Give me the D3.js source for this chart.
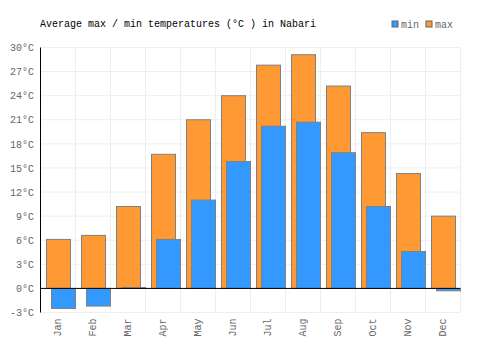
<!DOCTYPE html>
<html>
<head>
<meta charset="utf-8">
<script src="https://cdn.jsdelivr.net/npm/d3@7"></script>
<style>
  body { margin: 0; background: #fff; }
  text { font-family: "Liberation Mono", monospace; }
</style>
</head>
<body>
<svg id="chart" width="500" height="350"></svg>
<script>
// monthly averages
const months = ['Jan', 'Feb', 'Mar', 'Apr', 'May', 'Jun', 'Jul', 'Aug', 'Sep', 'Oct', 'Nov', 'Dec'];
const maxTemps = [6.1, 6.6, 10.2, 16.7, 21.0, 24.0, 27.8, 29.1, 25.2, 19.4, 14.3, 9.0];
const minTemps = [-2.5, -2.2, 0.1, 6.1, 11.0, 15.8, 20.2, 20.7, 16.9, 10.2, 4.6, -0.3];
const yTicks = [-3, 0, 3, 6, 9, 12, 15, 18, 21, 24, 27, 30];

const svg = d3.select('#chart');
const plotLeft = 40, plotRight = 460, plotTop = 47.5, plotBottom = 312.5;
const monoFont = '"Liberation Mono", monospace';

const x = d3.scaleBand().domain(months).range([plotLeft, plotRight]);
const y = d3.scaleLinear().domain([-3, 30]).range([plotBottom, plotTop]);

// grid
svg.append('g')
  .selectAll('line')
  .data(yTicks)
  .join('line')
  .attr('x1', plotLeft).attr('x2', plotRight)
  .attr('y1', d => y(d)).attr('y2', d => y(d))
  .attr('stroke', '#eeeeee');

svg.append('g')
  .selectAll('line')
  .data(months.map(m => x(m) + x.bandwidth()).concat([plotLeft]))
  .join('line')
  .attr('x1', d => d + 0.5).attr('x2', d => d + 0.5)
  .attr('y1', plotTop).attr('y2', plotBottom)
  .attr('stroke', '#eeeeee');

// bars: max first, min drawn over it shifted right
const bw = 24;
svg.append('g')
  .selectAll('rect')
  .data(months)
  .join('rect')
  .attr('x', (d) => x(d) + 6.5)
  .attr('width', bw)
  .attr('y', (d, i) => y(Math.max(0, maxTemps[i])))
  .attr('height', (d, i) => Math.abs(y(maxTemps[i]) - y(0)))
  .attr('fill', '#ff9933')
  .attr('stroke', '#808080');

svg.append('g')
  .selectAll('rect')
  .data(months)
  .join('rect')
  .attr('x', (d) => x(d) + 11.5)
  .attr('width', bw)
  .attr('y', (d, i) => y(Math.max(0, minTemps[i])))
  .attr('height', (d, i) => Math.abs(y(minTemps[i]) - y(0)))
  .attr('fill', '#3399ff')
  .attr('stroke', '#808080');

// zero line and y axis line
svg.append('line')
  .attr('x1', plotLeft).attr('x2', plotRight)
  .attr('y1', y(0)).attr('y2', y(0))
  .attr('stroke', '#000');

const yAxis = svg.append('g')
  .attr('transform', `translate(${plotLeft},0)`)
  .call(d3.axisLeft(y).tickValues(yTicks).tickSize(0).tickPadding(6).tickFormat(d => d + '°C'));
yAxis.select('.domain').attr('stroke', '#000').attr('d', `M0.5,${plotTop}V${plotBottom}`);
yAxis.selectAll('text').attr('fill', '#666').style('font-size', '10px')
  .style('font-family', monoFont);

// x labels
const xAxis = svg.append('g')
  .attr('transform', `translate(0,${plotBottom})`)
  .call(d3.axisBottom(x).tickSize(0).tickPadding(0));
xAxis.select('.domain').remove();
xAxis.selectAll('text')
  .attr('fill', '#666')
  .style('font-size', '10px')
  .style('font-family', monoFont)
  .attr('text-anchor', 'end')
  .attr('transform', 'rotate(-90)')
  .attr('x', -6)
  .attr('y', 0)
  .attr('dy', '0.35em');

// title
svg.append('text')
  .attr('x', 40).attr('y', 27)
  .style('font-size', '10px')
  .attr('fill', '#000')
  .text('Average max / min temperatures (°C ) in Nabari');

// legend
const legend = [['min', '#3399ff', 392], ['max', '#ff9933', 426]];
const lg = svg.append('g').selectAll('g').data(legend).join('g');
lg.append('rect')
  .attr('x', d => d[2]).attr('y', 21)
  .attr('width', 6).attr('height', 6)
  .attr('fill', d => d[1]).attr('stroke', '#666');
lg.append('text')
  .attr('x', d => d[2] + 9).attr('y', 27.5)
  .style('font-size', '10px')
  .attr('fill', '#666')
  .text(d => d[0]);
</script>
</body>
</html>
